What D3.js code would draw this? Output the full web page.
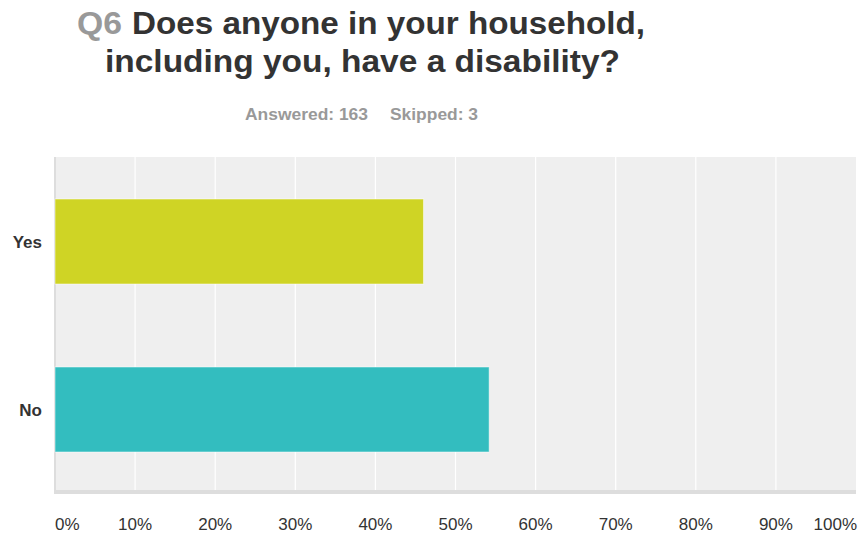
<!DOCTYPE html>
<html>
<head>
<meta charset="utf-8">
<title>Q6 disability</title>
<style>
  body { margin: 0; background: #fff; }
  svg text { font-family: "Liberation Sans", Arial, Helvetica, sans-serif; }
</style>
</head>
<body>
<svg width="859" height="533"></svg>
<script src="https://d3js.org/d3.v7.min.js"></script>
<script>
// data
const answers = ["Yes", "No"];
const shares = [46.0, 54.2];
const barColors = ["#cfd425", "#33bdbf"];
const tickValues = [0, 10, 20, 30, 40, 50, 60, 70, 80, 90, 100];

const svg = d3.select("svg");
const plotLeft = 55, plotRight = 856, plotTop = 157, plotBottom = 490;

const x = d3.scaleLinear().domain([0, 100]).range([plotLeft, plotRight]);
const y = d3.scaleBand().domain(answers).range([plotTop, plotBottom + 4]).paddingInner(0.494).paddingOuter(0.25);

// title, pieces stretched to the widths in the picture
function label(txt, x0, y0, len, size, color) {
  return svg.append("text")
    .attr("x", x0).attr("y", y0)
    .attr("textLength", len).attr("lengthAdjust", "spacingAndGlyphs")
    .style("font-size", size + "px").style("font-weight", "bold").style("fill", color)
    .text(txt);
}
label("Q6", 77, 34, 45, 32, "#999");
label("Does anyone in your household,", 132, 34, 513, 32, "#333");
label("including you, have a disability?", 105, 72, 515, 32, "#333");
label("Answered: 163", 245, 120, 123, 16, "#999");
label("Skipped: 3", 390, 120, 88, 16, "#999");

// plot background
svg.append("rect")
  .attr("x", plotLeft).attr("y", plotTop)
  .attr("width", plotRight - plotLeft).attr("height", plotBottom - plotTop)
  .attr("fill", "#efefef");

// gridlines
svg.append("g").selectAll("line")
  .data(tickValues.slice(1, -1))
  .join("line")
  .attr("x1", d => x(d)).attr("x2", d => x(d))
  .attr("y1", plotTop).attr("y2", plotBottom)
  .attr("stroke", "#fff").attr("stroke-width", 1.2);

// axis lines
svg.append("rect")
  .attr("x", plotLeft - 1).attr("y", plotTop).attr("width", 2).attr("height", plotBottom - plotTop + 4)
  .attr("fill", "#ddd");
svg.append("rect")
  .attr("x", plotLeft - 1).attr("y", plotBottom).attr("width", plotRight - plotLeft + 1).attr("height", 4)
  .attr("fill", "#ddd");

// bars
svg.append("g").selectAll("rect")
  .data(answers)
  .join("rect")
  .attr("x", x(0))
  .attr("y", d => y(d))
  .attr("width", (d, i) => x(shares[i]) - x(0))
  .attr("height", y.bandwidth())
  .attr("fill", (d, i) => barColors[i])
  .attr("stroke", "rgba(255,255,255,0.5)")
  .attr("stroke-width", 1);

// category labels
svg.append("g").selectAll("text")
  .data(answers)
  .join("text")
  .attr("x", 42)
  .attr("y", d => y(d) + y.bandwidth() / 2)
  .attr("dy", "0.36em")
  .attr("text-anchor", "end")
  .style("font-size", "17px").style("font-weight", "bold").style("fill", "#333")
  .text(d => d);

// x tick labels
svg.append("g").selectAll("text")
  .data(tickValues)
  .join("text")
  .attr("x", d => d === 100 ? x(d) + 1 : x(d))
  .attr("y", 530)
  .attr("text-anchor", d => d === 0 ? "start" : d === 100 ? "end" : "middle")
  .style("font-size", "17px").style("fill", "#333")
  .text(d => d + "%");
</script>
</body>
</html>
